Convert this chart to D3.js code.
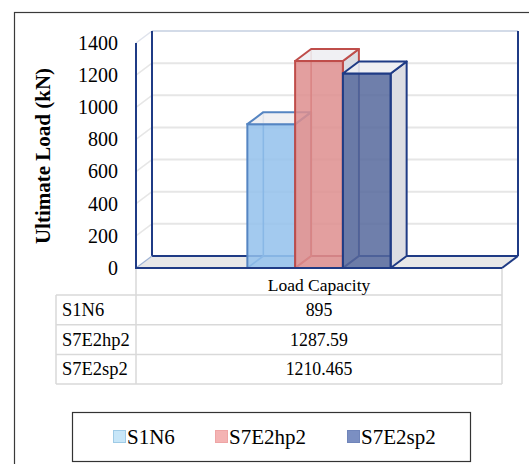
<!DOCTYPE html>
<html>
<head>
<meta charset="utf-8">
<script src="https://cdn.jsdelivr.net/npm/d3@7"></script>
<style>
  html, body { margin: 0; padding: 0; background: #fff; }
  svg { display: block; }
  svg text { font-family: "Liberation Serif", "DejaVu Serif", serif; }
</style>
</head>
<body>
<svg id="chart" width="529" height="464" font-family="Liberation Serif, serif"></svg>
<script>
// ---- data ----
const categories = ["Load Capacity"];
const seriesNames = ["S1N6", "S7E2hp2", "S7E2sp2"];
const seriesValues = [895, 1287.59, 1210.465];
const valueLabels = ["895", "1287.59", "1210.465"];
const yTicks = [0, 200, 400, 600, 800, 1000, 1200, 1400];

// ---- styling per series ----
const fills   = ["#93c1ec", "#de8e8e", "#56699c"];
const strokes = ["#5585c2", "#bf4d4a", "#1f3b85"];
const legendFills   = ["#c7e6f8", "#f4b3b3", "#7b8fc2"];
const legendStrokes = ["#9fcbe6", "#eea5a5", "#7085ba"];

const svg = d3.select("#chart");
const navy = "#1f3b85";
const grid = "#e6e6e6";
const serif = "Liberation Serif, serif";

// plot frame (front plane) and depth offset of the 3-D box
const pLeft = 136, pRight = 502, pBottom = 268, pTop = 43;
const dx = 16, dy = -12;

const y = d3.scaleLinear().domain([0, 1400]).range([pBottom, pTop]);
const x0 = d3.scaleBand().domain(categories).range([pLeft, pRight]).paddingOuter(0.777);
const x1 = d3.scaleBand().domain(seriesNames).range([0, x0.bandwidth()]);

// outer chart border
svg.append("rect")
  .attr("x", 14.5).attr("y", 12.5).attr("width", 530).attr("height", 470)
  .attr("fill", "none").attr("stroke", "#3a3a3a").attr("stroke-width", 1.2);

const pts = a => a.map(p => p.join(",")).join(" ");

const yTop = y(1400);

// gridlines: left wall diagonals + back wall horizontals
yTicks.forEach(t => {
  if (t === 0) return;
  const yy = y(t);
  svg.append("line")
    .attr("x1", pLeft).attr("y1", yy).attr("x2", pLeft + dx).attr("y2", yy + dy)
    .attr("stroke", t === 1400 ? "#dfe3ec" : grid).attr("stroke-width", 1.5);
  svg.append("line")
    .attr("x1", pLeft + dx).attr("y1", yy + dy).attr("x2", pRight + dx).attr("y2", yy + dy)
    .attr("stroke", t === 1400 ? "#c5cfe0" : grid).attr("stroke-width", t === 1400 ? 1.5 : 2);
});

// back-left and back-right vertical edges
svg.append("line")
  .attr("x1", pLeft + dx).attr("y1", yTop + dy).attr("x2", pLeft + dx).attr("y2", pBottom + dy)
  .attr("stroke", navy).attr("stroke-width", 2);
svg.append("line")
  .attr("x1", pRight + dx).attr("y1", yTop + dy).attr("x2", pRight + dx).attr("y2", pBottom + dy)
  .attr("stroke", navy).attr("stroke-width", 2);

// floor
svg.append("polygon")
  .attr("points", pts([[pLeft, pBottom], [pLeft + dx, pBottom + dy], [pRight + dx, pBottom + dy], [pRight, pBottom]]))
  .attr("fill", "#e8e8e8");
svg.append("line")
  .attr("x1", pLeft + dx).attr("y1", pBottom + dy).attr("x2", pRight + dx).attr("y2", pBottom + dy)
  .attr("stroke", navy).attr("stroke-width", 2);
svg.append("line")
  .attr("x1", pLeft).attr("y1", pBottom).attr("x2", pLeft + dx).attr("y2", pBottom + dy)
  .attr("stroke", "#9fb3d4").attr("stroke-width", 1.2);
svg.append("line")
  .attr("x1", pRight).attr("y1", pBottom).attr("x2", pRight + dx).attr("y2", pBottom + dy)
  .attr("stroke", navy).attr("stroke-width", 2);

// front-left vertical axis line
svg.append("line")
  .attr("x1", pLeft).attr("y1", yTop).attr("x2", pLeft).attr("y2", pBottom)
  .attr("stroke", navy).attr("stroke-width", 2);

// bars as semi-transparent boxes
const barData = seriesNames.map((name, i) => ({ name, value: seriesValues[i], i }));
const bars = svg.append("g").selectAll("g").data(barData).join("g");

bars.each(function (d) {
  const g = d3.select(this);
  const xa = x0(categories[0]) + x1(d.name);
  const xb = xa + x1.bandwidth();
  const yv = y(d.value);
  const yb = y(0);
  const s = strokes[d.i];

  // hidden back edges, seen through the front face
  g.append("polyline")
    .attr("points", pts([[xa + dx, yv + dy], [xa + dx, yb + dy], [xb + dx, yb + dy]]))
    .attr("fill", "none").attr("stroke", s).attr("stroke-width", 1.6);
  g.append("line")
    .attr("x1", xa).attr("y1", yb).attr("x2", xa + dx).attr("y2", yb + dy)
    .attr("stroke", s).attr("stroke-width", 1.6);

  // right side face
  g.append("polygon")
    .attr("points", pts([[xb, yb], [xb + dx, yb + dy], [xb + dx, yv + dy], [xb, yv]]))
    .attr("fill", "#dcdde3").attr("stroke", s).attr("stroke-width", 2).attr("stroke-linejoin", "round");

  // front face
  g.append("rect")
    .attr("x", xa).attr("y", yv).attr("width", xb - xa).attr("height", yb - yv)
    .attr("fill", fills[d.i]).attr("fill-opacity", 0.85)
    .attr("stroke", s).attr("stroke-width", 2);

  // top face
  g.append("polygon")
    .attr("points", pts([[xa, yv], [xa + dx, yv + dy], [xb + dx, yv + dy], [xb, yv]]))
    .attr("fill", "#eeeef2").attr("fill-opacity", 0.9)
    .attr("stroke", s).attr("stroke-width", 2).attr("stroke-linejoin", "round");
});

// front floor edge on top of the bars
svg.append("line")
  .attr("x1", pLeft - 1).attr("y1", pBottom).attr("x2", pRight).attr("y2", pBottom)
  .attr("stroke", navy).attr("stroke-width", 2);

// y axis labels
const yAxis = d3.axisLeft(y).tickValues(yTicks).tickFormat(d3.format("d"))
  .tickSize(0).tickPadding(18);
const ag = svg.append("g").attr("transform", `translate(${pLeft},0)`).call(yAxis);
ag.attr("font-family", serif);
ag.select(".domain").remove();
ag.selectAll("text")
  .attr("font-family", serif)
  .attr("font-size", 20).attr("fill", "#000");

// y axis title
svg.append("text")
  .attr("transform", "translate(50,156) rotate(-90)")
  .attr("text-anchor", "middle")
  .attr("font-family", serif)
  .attr("font-size", 21).attr("font-weight", "bold")
  .text("Ultimate Load (kN)");

// ---- data table ----
const tLeft = 56, rowH = 29.7;
const tTop = pBottom, hdrBottom = 295;
const tStroke = "#d9d9d9";
const tbl = svg.append("g").attr("fill", "none").attr("stroke", tStroke).attr("stroke-width", 1.5);

tbl.append("line").attr("x1", pLeft).attr("y1", tTop + 1).attr("x2", pLeft).attr("y2", hdrBottom + rowH * 3);
tbl.append("line").attr("x1", pRight).attr("y1", tTop + 1).attr("x2", pRight).attr("y2", hdrBottom + rowH * 3);
tbl.append("line").attr("x1", tLeft).attr("y1", hdrBottom).attr("x2", tLeft).attr("y2", hdrBottom + rowH * 3);
for (let r = 0; r <= 3; r++) {
  tbl.append("line")
    .attr("x1", tLeft).attr("y1", hdrBottom + r * rowH)
    .attr("x2", pRight).attr("y2", hdrBottom + r * rowH);
}

svg.append("text")
  .attr("x", x0(categories[0]) + x0.bandwidth() / 2).attr("y", 291)
  .attr("text-anchor", "middle").attr("font-family", serif).attr("font-size", 17.5)
  .text(categories[0]);

seriesNames.forEach((name, i) => {
  const base = hdrBottom + i * rowH + 21;
  svg.append("text")
    .attr("x", 62).attr("y", base)
    .attr("font-family", serif).attr("font-size", 18.5)
    .text(name);
  svg.append("text")
    .attr("x", (pLeft + pRight) / 2).attr("y", base)
    .attr("text-anchor", "middle").attr("font-family", serif).attr("font-size", 17.8)
    .text(valueLabels[i]);
});

// ---- legend ----
svg.append("rect")
  .attr("x", 72.5).attr("y", 412.5).attr("width", 398).attr("height", 49)
  .attr("fill", "#fff").attr("stroke", "#333").attr("stroke-width", 1.2);

const legendX = [113, 215, 347];
const lg = svg.append("g").selectAll("g").data(seriesNames).join("g")
  .attr("transform", (d, i) => `translate(${legendX[i]},430)`);
lg.append("rect")
  .attr("x", 0.5).attr("y", 0.5).attr("width", 12).attr("height", 12)
  .attr("fill", (d, i) => legendFills[i]).attr("stroke", (d, i) => legendStrokes[i]);
lg.append("text")
  .attr("x", 14).attr("y", 14)
  .attr("font-family", serif).attr("font-size", 21)
  .text(d => d);
</script>
</body>
</html>
